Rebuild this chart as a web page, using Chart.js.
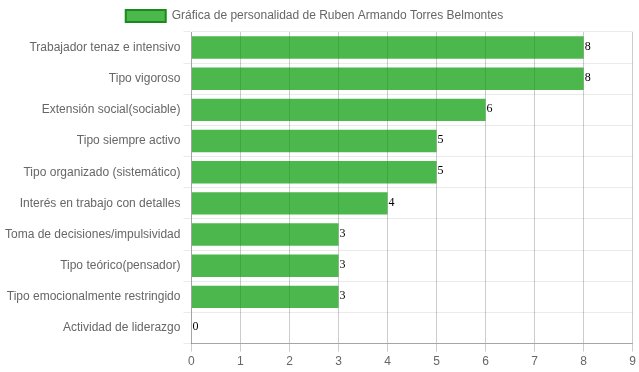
<!DOCTYPE html>
<html>
<head>
<meta charset="utf-8">
<script src="https://cdn.jsdelivr.net/npm/chart.js@4.4.1/dist/chart.umd.min.js"></script>
<style>
  html, body { margin: 0; padding: 0; background: #fff; }
  #wrap { width: 639px; height: 372px; }
</style>
</head>
<body>
<div id="wrap"><canvas id="grafica"></canvas></div>
<script>
const categorias = [
  "Trabajador tenaz e intensivo",
  "Tipo vigoroso",
  "Extensión social(sociable)",
  "Tipo siempre activo",
  "Tipo organizado (sistemático)",
  "Interés en trabajo con detalles",
  "Toma de decisiones/impulsividad",
  "Tipo teórico(pensador)",
  "Tipo emocionalmente restringido",
  "Actividad de liderazgo"
];
const valores = [8, 8, 6, 5, 5, 4, 3, 3, 3, 0];
const tituloSerie = "Gráfica de personalidad de Ruben Armando Torres Belmontes";

Chart.defaults.font.family = "'Liberation Sans', Arial, sans-serif";
Chart.defaults.font.size = 12;
Chart.defaults.color = "#666";

// escribe el valor al final de cada barra
const etiquetasValor = {
  id: "etiquetasValor",
  afterDatasetsDraw(chart) {
    const ctx = chart.ctx;
    const meta = chart.getDatasetMeta(0);
    ctx.save();
    ctx.font = "12px 'Liberation Serif', serif";
    ctx.fillStyle = "#000";
    ctx.textAlign = "left";
    ctx.textBaseline = "middle";
    meta.data.forEach((bar, i) => {
      ctx.fillText(valores[i], bar.x + 1, bar.y - 1);
    });
    ctx.restore();
  }
};

// la leyenda del original queda un poco a la izquierda
const moverLeyenda = {
  id: "moverLeyenda",
  beforeDraw(chart) {
    if (chart.legend && chart.legend.lineWidths && !chart.legend._movida) {
      chart.legend.lineWidths[0] += 6;
      chart.legend._movida = true;
    }
  }
};

new Chart(document.getElementById("grafica"), {
  type: "bar",
  data: {
    labels: categorias,
    datasets: [{
      label: tituloSerie,
      data: valores,
      backgroundColor: "rgba(0,153,0,0.7)",
      borderColor: "#1a8a1a",
      borderWidth: 0
    }]
  },
  options: {
    indexAxis: "y",
    responsive: true,
    maintainAspectRatio: false,
    animation: false,
    layout: { padding: { right: 6, left: 2 } },
    plugins: {
      tooltip: { enabled: false },
      legend: {
        labels: {
          boxWidth: 40,
          boxHeight: 12,
          generateLabels(chart) {
            const items = Chart.defaults.plugins.legend.labels.generateLabels(chart);
            items.forEach((it) => { it.lineWidth = 2; it.strokeStyle = "#1a8a1a"; });
            return items;
          }
        }
      }
    },
    scales: {
      x: {
        min: 0,
        max: 9,
        ticks: { stepSize: 1 },
        grid: { color: "rgba(0,0,0,0.2)" },
        border: { color: "rgba(0,0,0,0.3)" }
      },
      y: {
        grid: { color: "rgba(0,0,0,0.08)" },
        border: { color: "rgba(0,0,0,0.2)" }
      }
    }
  },
  plugins: [etiquetasValor, moverLeyenda]
});
</script>
</body>
</html>
